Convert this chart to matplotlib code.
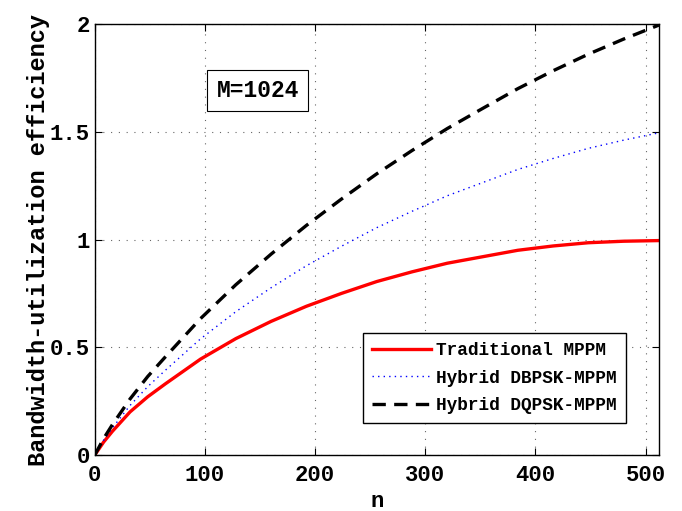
import numpy as np
import matplotlib.pyplot as plt

# number of pulses n and the efficiency of each scheme (M = 1024)
n = [0, 8, 16, 32, 48, 64, 96, 128, 160, 192, 224, 256, 288, 320, 352, 384, 416, 448, 480, 512]
trad_mppm = [0, 0.06, 0.11, 0.20, 0.27, 0.33, 0.445, 0.54, 0.62, 0.69, 0.75, 0.805,
             0.85, 0.89, 0.92, 0.95, 0.97, 0.985, 0.992, 0.995]
dbpsk_mppm = [0, 0.068, 0.126, 0.23, 0.317, 0.393, 0.539, 0.665, 0.776, 0.878, 0.969,
              1.055, 1.131, 1.203, 1.264, 1.325, 1.376, 1.423, 1.461, 1.495]
dqpsk_mppm = [0, 0.076, 0.141, 0.26, 0.364, 0.455, 0.633, 0.79, 0.932, 1.065, 1.188,
              1.305, 1.413, 1.515, 1.608, 1.70, 1.783, 1.86, 1.93, 1.995]
labels = ['Traditional MPPM', 'Hybrid DBPSK-MPPM', 'Hybrid DQPSK-MPPM']

plt.rcParams['font.family'] = ['Liberation Mono', 'DejaVu Sans Mono']
plt.rcParams['font.weight'] = 'bold'

fig = plt.figure(figsize=(6.82, 5.11), dpi=100)
ax = fig.add_axes([0.139, 0.1096, 0.827, 0.8434])

ax.plot(n, trad_mppm, '-', color='red', lw=2.4, label=labels[0])
ax.plot(n, dbpsk_mppm, color='blue', lw=1.0, dashes=(1, 3), label=labels[1])
ax.plot(n, dqpsk_mppm, '--', color='black', lw=2.4, dashes=(4, 2.5), label=labels[2])

ax.set_xlim(0, 512)
ax.set_ylim(0, 2)
ax.set_xticks([0, 100, 200, 300, 400, 500])
ax.set_yticks([0, 0.5, 1, 1.5, 2])
ax.set_yticklabels(['0', '0.5', '1', '1.5', '2'])
ax.tick_params(direction='in', top=True, right=True, labelsize=16, length=5, width=0.8)
ax.tick_params(axis='x', pad=7)
ax.grid(True, linestyle=(0, (1, 6)), color='black', lw=0.8, alpha=0.6)
for sp in ax.spines.values():
    sp.set_linewidth(1.0)

ax.set_xlabel('n', fontsize=16, fontweight='bold', labelpad=4)
ax.set_ylabel('Bandwidth-utilization efficiency', fontsize=17, fontweight='bold', labelpad=0)

ax.text(148, 1.69, 'M=1024', fontsize=16.5, fontweight='bold', ha='center', va='center',
        bbox=dict(boxstyle='square,pad=0.4', fc='white', ec='black', lw=0.8))

leg = ax.legend(loc='lower right', bbox_to_anchor=(0.941, 0.074), borderaxespad=0,
                fontsize=12.8, frameon=True, fancybox=False, framealpha=1,
                edgecolor='black', handlelength=3.3, handletextpad=0.3,
                borderpad=0.5, labelspacing=0.6)
leg.get_frame().set_linewidth(1.0)

fig.savefig('out.png', dpi=100)
